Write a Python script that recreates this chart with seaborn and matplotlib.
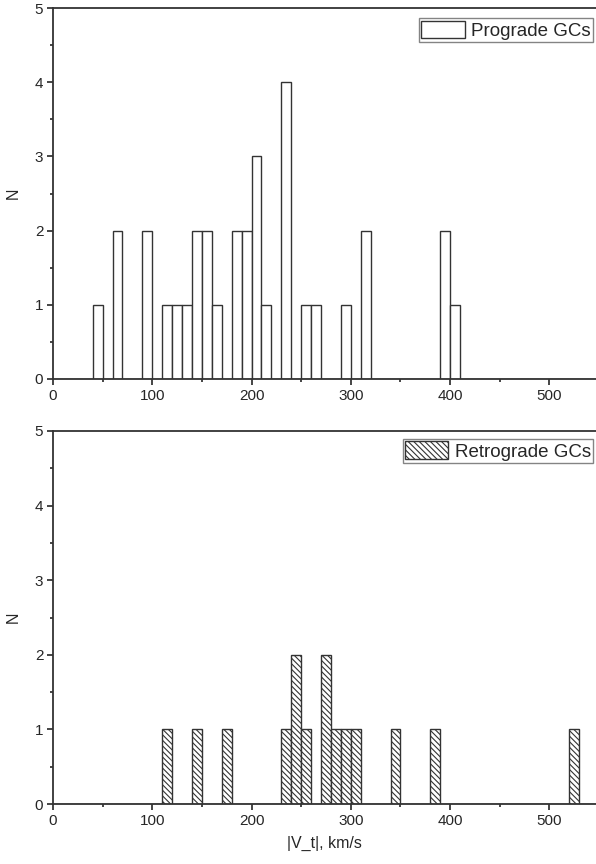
import numpy as np
import pandas as pd
import matplotlib
matplotlib.use("Agg")
import matplotlib.pyplot as plt
import seaborn as sns
from matplotlib.ticker import MultipleLocator

# bin left edges (km/s) and counts, bin width 10
pro_left = [40, 60, 90, 110, 120, 130, 140, 150, 160, 180, 190, 200, 210, 230,
            250, 260, 290, 310, 390, 400]
pro_count = [1, 2, 2, 1, 1, 1, 2, 2, 1, 2, 2, 3, 1, 4, 1, 1, 1, 2, 2, 1]

retro_left = [110, 140, 170, 230, 240, 250, 270, 280, 290, 300, 340, 380, 520]
retro_count = [1, 1, 1, 1, 2, 1, 2, 1, 1, 1, 1, 1, 1]

bin_width = 10

sns.set_style("ticks")
plt.rcParams["font.family"] = ["Liberation Sans", "DejaVu Sans"]
plt.rcParams["hatch.linewidth"] = 0.8
plt.rcParams["hatch.color"] = "#333333"

fig = plt.figure(figsize=(5.96, 8.64), dpi=100)
ax1 = fig.add_axes([53 / 596, 1 - 379 / 864, (596 - 53) / 596, (379 - 8) / 864])
ax2 = fig.add_axes([53 / 596, 1 - 804 / 864, (596 - 53) / 596, (804 - 431) / 864])

panels = [
    (ax1, pro_left, pro_count, "Prograde GCs", None, 0.972),
    (ax2, retro_left, retro_count, "Retrograde GCs", "\\" * 6, 0.978),
]

for ax, left, count, label, hatch, ytop in panels:
    df = pd.DataFrame({"v": np.array(left) + bin_width / 2, "n": count})
    sns.histplot(data=df, x="v", weights="n", binwidth=bin_width, binrange=(0, 550),
                 color="white", edgecolor="#333333", linewidth=1.0, alpha=1,
                 hatch=hatch, label=label, ax=ax)
    ax.set_xlim(0, 547)
    ax.set_ylim(0, 5)
    ax.xaxis.set_major_locator(MultipleLocator(100))
    ax.xaxis.set_minor_locator(MultipleLocator(50))
    ax.yaxis.set_major_locator(MultipleLocator(1))
    ax.yaxis.set_minor_locator(MultipleLocator(0.5))
    ax.tick_params(which="major", direction="out", length=4, width=1.2, labelsize=11, pad=3)
    ax.tick_params(which="minor", direction="out", length=2, width=1.2)
    for s in ["left", "bottom", "top"]:
        ax.spines[s].set_linewidth(1.3)
        ax.spines[s].set_color("#333333")
    ax.spines["right"].set_visible(False)
    ax.set_ylabel("N", fontsize=11.5, labelpad=10)
    ax.set_xlabel("")
    leg = ax.legend(loc="upper right", bbox_to_anchor=(0.9945, ytop), fontsize=13.5,
                    frameon=True, fancybox=False, edgecolor="#666666",
                    handlelength=2.3, handleheight=1.05, handletextpad=0.35,
                    borderpad=0.12, borderaxespad=0)
    leg.get_frame().set_linewidth(1.0)

ax2.set_xlabel("|V_t|, km/s", fontsize=11.5, labelpad=6)

fig.savefig("out.png", dpi=100)
